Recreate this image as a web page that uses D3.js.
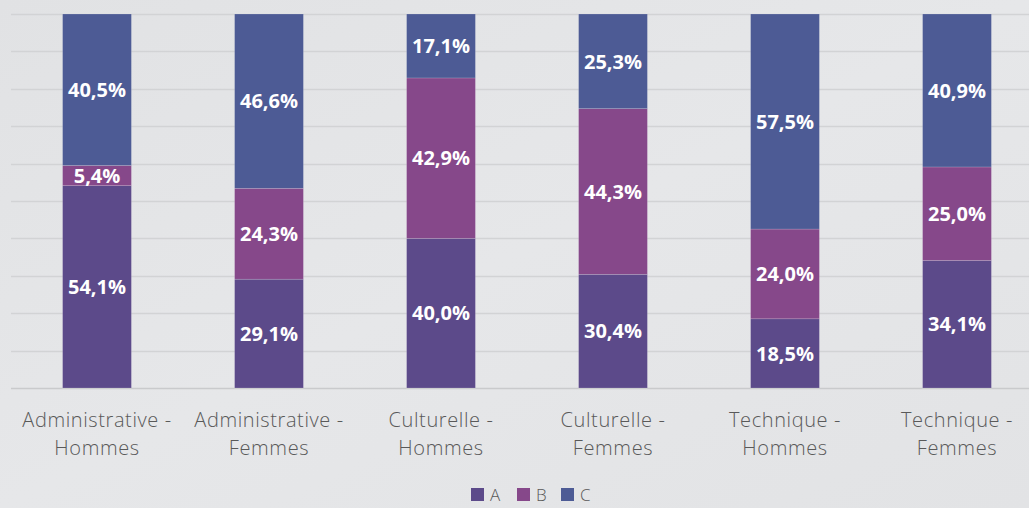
<!DOCTYPE html>
<html>
<head>
<meta charset="utf-8">
<script src="https://cdn.jsdelivr.net/npm/d3@7"></script>
<style>
  body { margin: 0; background: #e4e5e7; }
  svg { display: block; }
</style>
</head>
<body>
<div id="chart"></div>
<script>
// categories and values (percent)
let categories = [
  ["Administrative -", "Hommes"],
  ["Administrative -", "Femmes"],
  ["Culturelle -", "Hommes"],
  ["Culturelle -", "Femmes"],
  ["Technique -", "Hommes"],
  ["Technique -", "Femmes"]
]
let seriesNames = ["A", "B", "C"]
let valuesA = [54.1, 29.1, 40.0, 30.4, 18.5, 34.1]
let valuesB = [5.4, 24.3, 42.9, 44.3, 24.0, 25.0]
let valuesC = [40.5, 46.6, 17.1, 25.3, 57.5, 40.9]
let colors = ["#5c4a8a", "#86488a", "#4d5b95"]

let width = 1029, height = 508
let svg = d3.select("#chart").append("svg")
  .attr("width", width)
  .attr("height", height)

let defs = svg.append("defs")
let grad = defs.append("linearGradient").attr("id", "bg")
  .attr("x1", 0).attr("y1", 0).attr("x2", 1).attr("y2", 1)
grad.append("stop").attr("offset", "0%").attr("stop-color", "#e1e2e4")
grad.append("stop").attr("offset", "50%").attr("stop-color", "#e6e7e9")
grad.append("stop").attr("offset", "100%").attr("stop-color", "#e2e3e5")
svg.append("rect").attr("width", width).attr("height", height).attr("fill", "url(#bg)")

let table = categories.map((c, i) => ({ key: i, A: valuesA[i], B: valuesB[i], C: valuesC[i] }))
let stacked = d3.stack().keys(seriesNames)(table)

let x = d3.scaleBand()
  .domain(d3.range(categories.length))
  .range([11, 1043])
  .paddingInner(0.6)
  .paddingOuter(0.3)

let y = d3.scaleLinear()
  .domain([0, 100])
  .range([388, 14])

// gridlines
svg.append("g")
  .selectAll("line")
  .data(y.ticks(10))
  .enter()
  .append("line")
  .attr("x1", 11)
  .attr("x2", width)
  .attr("y1", d => Math.round(y(d)) + 0.5)
  .attr("y2", d => Math.round(y(d)) + 0.5)
  .style("stroke", d => d === 0 ? "#c9cacc" : "#d2d3d5")
  .style("stroke-width", 1.5)

// bars
let layers = svg.append("g")
  .selectAll("g")
  .data(stacked)
  .enter()
  .append("g")
  .style("fill", (d, i) => colors[i])

layers.selectAll("rect")
  .data(d => d)
  .enter()
  .append("rect")
  .attr("x", (d, i) => x(i))
  .attr("width", x.bandwidth())
  .attr("y", d => y(d[1]))
  .attr("height", d => y(d[0]) - y(d[1]))
  .style("stroke", "rgba(255,255,255,0.25)")
  .style("stroke-width", 0.6)

// value labels
layers.selectAll("text")
  .data(d => d)
  .enter()
  .append("text")
  .attr("x", (d, i) => x(i) + x.bandwidth() / 2)
  .attr("y", d => (y(d[0]) + y(d[1])) / 2)
  .attr("dy", "0.36em")
  .attr("text-anchor", "middle")
  .style("font-family", "'Open Sans', sans-serif")
  .style("font-weight", 700)
  .style("font-size", "20px")
  .style("fill", "#ffffff")
  .text(d => (d[1] - d[0]).toFixed(1).replace(".", ",") + "%")

// category labels
let xLabels = svg.append("g")
  .selectAll("text")
  .data(categories)
  .enter()
  .append("text")
  .attr("x", (d, i) => x(i) + x.bandwidth() / 2)
  .attr("y", 420)
  .attr("text-anchor", "middle")
  .style("font-family", "'Open Sans', sans-serif")
  .style("font-weight", 300)
  .style("font-size", "20px")
  .style("letter-spacing", "0.6px")
  .style("fill", "#595959")

xLabels.selectAll("tspan")
  .data(d => d)
  .enter()
  .append("tspan")
  .attr("x", function () { return d3.select(this.parentNode).attr("x") })
  .attr("dy", (d, i) => i === 0 ? "0.36em" : "28px")
  .text(d => d)

// legend
let legendX = [471, 517, 561]
let legend = svg.append("g")
  .selectAll("g")
  .data(seriesNames)
  .enter()
  .append("g")
  .attr("transform", (d, i) => "translate(" + legendX[i] + ",488)")

legend.append("rect")
  .attr("width", 13)
  .attr("height", 13)
  .style("fill", (d, i) => colors[i])

legend.append("text")
  .attr("x", 19)
  .attr("y", 7)
  .attr("dy", "0.36em")
  .style("font-family", "'Open Sans', sans-serif")
  .style("font-weight", 300)
  .style("font-size", "17px")
  .style("fill", "#595959")
  .text(d => d)
</script>
</body>
</html>
